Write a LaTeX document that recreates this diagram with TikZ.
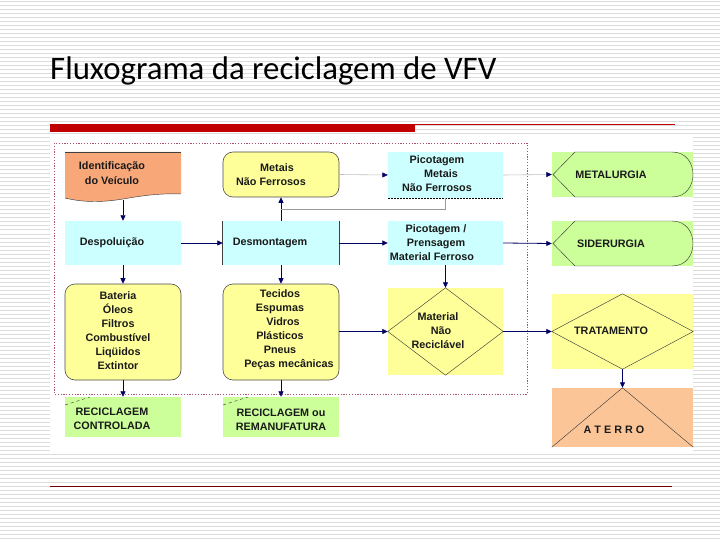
\documentclass[tikz,border=0pt]{standalone}
\usepackage{fontspec}
\setmainfont{Liberation Sans}
\newfontfamily\titlefont{Carlito}
\usetikzlibrary{arrows.meta}
\definecolor{navy}{HTML}{000066}
\definecolor{cyanfill}{HTML}{CCFFFF}
\definecolor{yellowfill}{HTML}{FFFF99}
\definecolor{greenfill}{HTML}{CCFF99}
\definecolor{identfill}{HTML}{F8A878}
\definecolor{aterrofill}{HTML}{FBC597}
\definecolor{txtdark}{HTML}{1A1A1A}
\definecolor{framered}{HTML}{A8506A}
\definecolor{redbar}{HTML}{C00000}
\definecolor{stripe}{HTML}{DCDCDC}
\tikzset{
  box/.style={rectangle, inner sep=0pt, minimum width=116pt},
  cyanbox/.style={box, fill=cyanfill},
  roundbox/.style={box, fill=yellowfill, draw=black!70, line width=0.6pt, rounded corners=10pt},
  greenbox/.style={box, fill=greenfill},
  lbl/.style={font=\fontsize{10.8}{14}\selectfont\bfseries, text=txtdark, align=center, inner sep=0pt},
  thinline/.style={draw=black!75, line width=0.45pt},
  seta/.style={draw=navy, line width=0.8pt, -{Triangle[length=5.5pt,width=5pt]}},
  faintseta/.style={draw=black!25, line width=0.6pt, -{Triangle[length=5.5pt,width=5pt,color=navy]}},
}
\begin{document}
\begin{tikzpicture}[x=1pt,y=-1pt]
  \useasboundingbox (0,0) rectangle (720,540);
  % fundo listrado
  \fill[white] (0,0) rectangle (720,540);
  \foreach \y in {2,6,...,538}
    \draw[stripe, line width=1pt] (0,\y) -- (720,\y);
  \node[anchor=base west, inner sep=0pt, font=\titlefont\fontsize{32.8}{38}\selectfont] (titulo) at (50,80) {Fluxograma da reciclagem de VFV};
  \fill[redbar] (50,124) rectangle (415,132);
  \draw[redbar, line width=0.6pt] (415,124.5) -- (675,124.5);
  \draw[redbar!60!black, line width=1pt] (50,486) -- (672,486);
  \fill[white] (50,135) rectangle (693,452);
  \draw[framered, line width=0.8pt, dash pattern=on 1.2pt off 1.6pt] (54,143) rectangle (527,394);

  % coluna 1
  \node[box, minimum height=48pt] (ident) at (123,176) {};
  \fill[identfill] (65,152) -- (181,152) -- (181,194)
    .. controls (160,193) and (140,196) .. (123,199)
    .. controls (105,202) and (85,203) .. (65,198) -- cycle;
  \draw[thinline] (65,152) -- (181,152);
  \draw[thinline] (181,194) .. controls (160,193) and (140,196) .. (123,199)
    .. controls (105,202) and (85,203) .. (65,198);
  \node[lbl, font=\fontsize{10.8}{15}\selectfont\bfseries] (identtxt) at (112,173) {Identificação\\do Veículo};
  \node[cyanbox, minimum height=44pt] (despol) at (123,243) {};
  \node[lbl] (despoltxt) at (112,243) {Despoluição};
  \node[roundbox, minimum height=96pt] (bateria) at (123,332) {};
  \node[lbl] (bateriatxt) at (118,331) {Bateria\\Óleos\\Filtros\\Combustível\\Liqüidos\\Extintor};
  \node[greenbox, minimum height=40pt] (recicl) at (123,417) {};
  \draw[thinline, dashed] (65,405) -- (90,397);
  \node[lbl] (reciltxt) at (112,419) {RECICLAGEM\\CONTROLADA};

  % coluna 2
  \node[roundbox, minimum height=45pt] (metais) at (281,174.5) {};
  \node[lbl] (metaistxt) at (271,175) {\hspace*{12pt}Metais\\Não Ferrosos};
  \node[cyanbox, minimum height=44pt] (desmont) at (281,243) {};
  \draw[thinline, line width=0.7pt] (desmont.north west) -- (desmont.south west);
  \draw[thinline, line width=0.7pt] (desmont.north east) -- (desmont.south east);
  \node[lbl] (desmonttxt) at (270,243) {Desmontagem};
  \node[roundbox, minimum height=96pt] (tecidos) at (281,332) {};
  \node[lbl] (tecidostxt) at (280,330) {Tecidos\\Espumas\\\hspace*{6pt}Vidros\\Plásticos\\Pneus\\\hspace*{18pt}Peças mecânicas};
  \node[greenbox, minimum height=40pt] (reman) at (281,417) {};
  \draw[thinline, dashed] (223,405) -- (248,397);
  \node[lbl] (remantxt) at (281,420) {RECICLAGEM ou\\REMANUFATURA};

  % coluna 3
  \node[cyanbox, minimum width=115pt, minimum height=46pt] (picmet) at (445.5,175) {};
  \draw[black, line width=0.8pt, dash pattern=on 2pt off 1pt] (picmet.south west) -- (picmet.south east);
  \node[lbl] (picmettxt) at (437,174) {Picotagem\\\hspace*{8pt}Metais\\Não Ferrosos};
  \node[cyanbox, minimum width=115pt, minimum height=44pt] (picfer) at (445.5,243) {};
  \node[lbl] (picfertxt) at (432,243) {\hspace*{8pt}Picotagem /\\\hspace*{8pt}Prensagem\\Material Ferroso};
  \node[box, fill=yellowfill, minimum width=115pt, minimum height=87pt] (matnr) at (445.5,331.5) {};
  \draw[thinline] (matnr.north) -- (matnr.east) -- (matnr.south) -- (matnr.west) -- cycle;
  \node[lbl] (matnrtxt) at (438,331) {Material\\\hspace*{6pt}Não\\Reciclável};

  % coluna 4
  \node[box, fill=greenfill, minimum width=141pt, minimum height=45pt] (metal) at (622.5,174.5) {};
  \draw[thinline] (553,174.5) -- (575,152) -- (672,152)
    .. controls (686,152) and (693,163) .. (693,174.5)
    .. controls (693,186) and (686,197) .. (672,197) -- (575,197) -- cycle;
  \node[lbl] (metaltxt) at (611,175) {METALURGIA};
  \node[box, fill=greenfill, minimum width=141pt, minimum height=45pt] (sider) at (622.5,243.5) {};
  \draw[thinline] (553,243.5) -- (575,221) -- (672,221)
    .. controls (686,221) and (693,232) .. (693,243.5)
    .. controls (693,255) and (686,266) .. (672,266) -- (575,266) -- cycle;
  \node[lbl] (sidertxt) at (611,243.5) {SIDERURGIA};
  \node[box, fill=yellowfill, minimum width=141pt, minimum height=75pt] (trat) at (622.5,331.5) {};
  \draw[thinline] (trat.north) -- (trat.east) -- (trat.south) -- (trat.west) -- cycle;
  \node[lbl] (trattxt) at (611,331) {TRATAMENTO};
  \node[box, fill=aterrofill, minimum width=141pt, minimum height=59pt] (aterro) at (622.5,417.5) {};
  \draw[thinline] (aterro.south west) -- (aterro.north) -- (aterro.south east);
  \node[lbl] (aterrotxt) at (614,430) {A T E R R O};

  % conexoes
  \draw[seta] (ident.south) -- (despol.north);
  \draw[seta] (despol.east) -- (desmont.west);
  \draw[seta] (despol.south) -- (bateria.north);
  \draw[seta] (bateria.south) -- (recicl.north);
  \draw[seta] (desmont.north) -- (metais.south);
  \coordinate (juncao) at (281,209);
  \draw[black!40, line width=0.6pt] (juncao) -- (445.5,209) -- (picmet.south);
  \draw[faintseta] (metais.east) -- (picmet.west);
  \draw[faintseta] (picmet.east) -- (metal.west);
  \draw[seta] (desmont.east) -- (picfer.west);
  \draw[seta] (desmont.south) -- (tecidos.north);
  \draw[seta] (tecidos.south) -- (reman.north);
  \draw[seta] (tecidos.east |- matnr.west) -- (matnr.west);
  \draw[seta] (picfer.south) -- (matnr.north);
  \draw[seta] (picfer.east) -- (sider.west);
  \draw[seta] (matnr.east) -- (trat.west);
  \draw[seta] (trat.south) -- (aterro.north);
\end{tikzpicture}
\end{document}
